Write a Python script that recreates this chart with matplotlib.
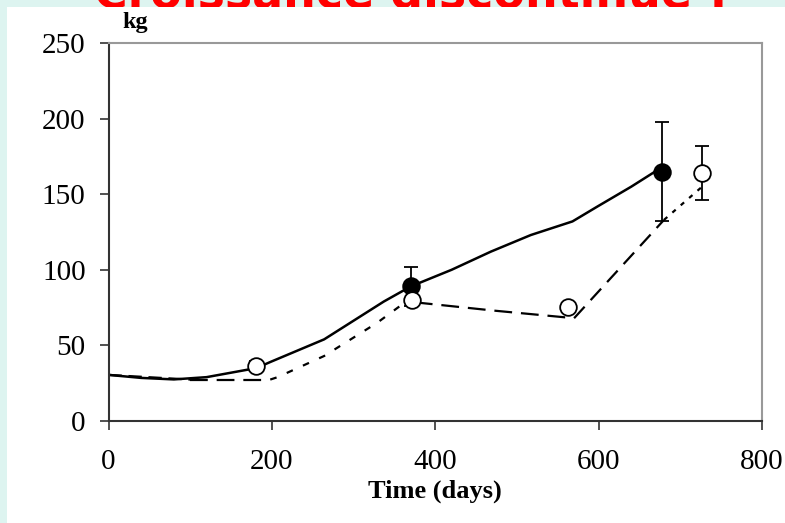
import matplotlib
matplotlib.use("Agg")
import matplotlib.pyplot as plt
from matplotlib.patches import Rectangle

# ---- data ----
solid_x = [0, 40, 80, 120, 181, 198, 264, 337, 370, 420, 468, 517, 568, 599, 640, 678]
solid_y = [30.5, 28.5, 27.5, 29, 35, 39, 54, 79, 89, 100, 112, 123, 132, 142, 155, 168]

dash_x = [0, 100, 198, 207, 264, 329, 358, 375, 472, 570, 680, 731]
dash_y = [30.5, 27.4, 27.4, 29, 43, 65, 76.5, 78.5, 73, 68, 133, 157]

filled_x = [370, 678]
filled_y = [89, 165]
filled_err = [13, 33]

open_x = [181, 371, 563, 727]
open_y = [36.5, 80, 75.5, 164]
open_err = [3, 0, 0, 18]

x_ticks = [0, 200, 400, 600, 800]
y_ticks = [0, 50, 100, 150, 200, 250]

# dash segments: (start index, end index, dash pattern)
dash_segments = [(0, 1, (6, 3)), (1, 2, (8, 4)), (2, 7, (3, 5)), (7, 9, (8, 4)),
                 (9, 10, (7, 4)), (10, 11, (2, 3))]

W, H = 785, 523
fig = plt.figure(figsize=(W / 100, H / 100), dpi=100)
fig.patch.set_facecolor("#DDF4F0")

# slide title lies behind the pasted chart picture (only its bottom edge shows)
fig.text(411 / W, 1 - 7.5 / H, "Croissance discontinue !", color="#FF0000",
         fontsize=33, fontweight="bold", family="DejaVu Sans",
         ha="center", va="baseline", zorder=-3)
fig.add_artist(Rectangle((7 / W, 0), 1 - 7 / W, 1 - 7 / H, transform=fig.transFigure,
                         facecolor="white", edgecolor="none", zorder=-2))

ax = fig.add_axes([108.5 / W, 1 - 421 / H, (762 - 108.5) / W, (421 - 43) / H])
ax.set_facecolor("white")

ax.plot(solid_x, solid_y, color="black", lw=1.8, zorder=2)
for i0, i1, pat in dash_segments:
    ax.plot(dash_x[i0:i1 + 1], dash_y[i0:i1 + 1], color="black", lw=1.6,
            dashes=pat, zorder=2)

ax.errorbar(filled_x, filled_y, yerr=filled_err, fmt="none", ecolor="black",
            elinewidth=1.3, capsize=5, capthick=1.3, zorder=3)
ax.errorbar(open_x, open_y, yerr=open_err, fmt="none", ecolor="black",
            elinewidth=1.3, capsize=5, capthick=1.3, zorder=3)
ax.plot(filled_x, filled_y, "o", ms=12, mfc="black", mec="black", mew=1.3,
        ls="none", zorder=4)
ax.plot(open_x, open_y, "o", ms=12, mfc="white", mec="black", mew=1.3,
        ls="none", zorder=5)

ax.set_xlim(0, 800)
ax.set_ylim(0, 250)
ax.set_xticks(x_ticks)
ax.set_yticks(y_ticks)

serif = ["Liberation Serif", "DejaVu Serif"]
for lab in ax.get_xticklabels() + ax.get_yticklabels():
    lab.set_family(serif)
    lab.set_fontsize(21)
ax.tick_params(axis="both", direction="out", length=6.5, width=1.2, color="#333333")
ax.tick_params(axis="x", pad=14)
ax.tick_params(axis="y", pad=10)

for s in ["left", "bottom"]:
    ax.spines[s].set_color("#333333")
    ax.spines[s].set_linewidth(1.5)
for s in ["top", "right"]:
    ax.spines[s].set_color("#999999")
    ax.spines[s].set_linewidth(1.5)

ax.set_xlabel("Time (days)", family=serif, fontweight="bold", fontsize=19, labelpad=3)
fig.text(122 / W, 1 - 28 / H, "kg", family=serif, fontweight="bold", fontsize=17.5,
         ha="left", va="baseline")

fig.savefig("out.png", dpi=100, facecolor=fig.get_facecolor())
